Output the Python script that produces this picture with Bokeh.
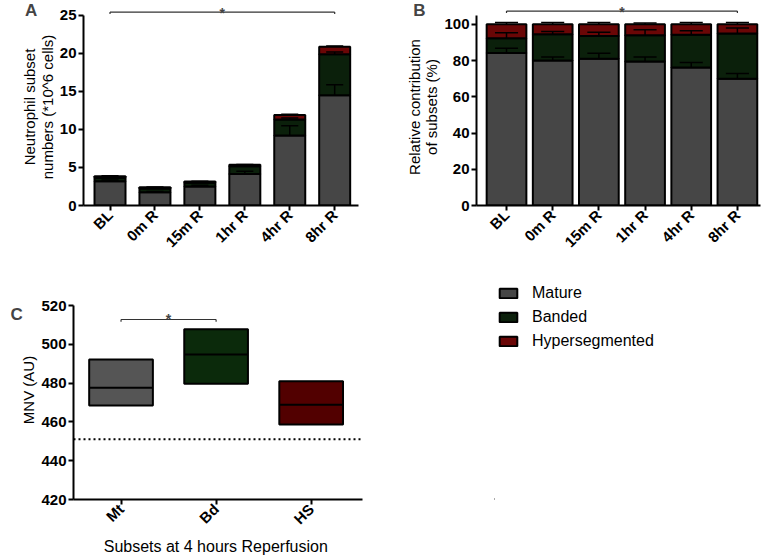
import math
import numpy as np
from bokeh.plotting import figure
from bokeh.layouts import row, column
from bokeh.models import (ColumnDataSource, Label, Span, Legend, LegendItem,
                          FixedTicker)
from bokeh.embed import file_html
from bokeh.resources import INLINE

# ---------------- data ----------------
cats = ["BL", "0m R", "15m R", "1hr R", "4hr R", "8hr R"]

a_mature = [3.2, 1.75, 2.5, 4.15, 9.2, 14.5]
a_banded = [0.45, 0.5, 0.5, 1.0, 2.1, 5.4]
a_hyper = [0.2, 0.15, 0.15, 0.2, 0.6, 1.0]
a_mature_err = [0.15, 0.1, 0.15, 0.35, 1.3, 1.4]
a_banded_err = [0.1, 0.1, 0.1, 0.2, 0.2, 0.3]
a_hyper_err = [0.05, 0.05, 0.05, 0.05, 0.1, 0.1]

b_mature = [84.2, 80.1, 81.0, 79.5, 76.2, 70.0]
b_banded = [8.1, 14.4, 12.6, 14.5, 18.1, 25.0]
b_hyper = [7.7, 5.5, 6.4, 6.0, 5.7, 5.0]
b_mature_err = [2.6, 1.9, 3.0, 2.5, 2.8, 2.8]
b_banded_err = [3.0, 1.5, 2.0, 3.0, 2.2, 3.0]
b_hyper_err = [1.0, 1.0, 1.0, 0.8, 1.0, 1.0]

c_cats = ["Mt", "Bd", "HS"]
c_min = [468.5, 479.7, 458.6]
c_max = [492.2, 507.8, 480.9]
c_mean = [477.6, 494.8, 468.9]
c_baseline = 451

subsets = ["Mature", "Banded", "Hypersegmented"]
colors = ["#464646", "#0b200b", "#6a0606"]
c_colors = ["#555555", "#0b2a0b", "#520000"]

FONT = "Liberation Sans"


def style(p):
    p.xgrid.visible = False
    p.ygrid.visible = False
    p.outline_line_color = None
    p.background_fill_color = "white"
    p.border_fill_color = "white"
    for ax in p.axis:
        ax.axis_line_width = 2
        ax.axis_line_color = "black"
        ax.major_tick_line_width = 2
        ax.major_tick_line_color = "black"
        ax.major_tick_out = 5
        ax.major_tick_in = 0
        ax.minor_tick_out = 0
        ax.minor_tick_in = 0
        ax.major_label_text_font = FONT
        ax.major_label_text_font_style = "bold"
        ax.major_label_text_font_size = "15px"
        ax.major_label_text_color = "black"
        ax.major_label_standoff = 2
        ax.axis_label_text_font = FONT
        ax.axis_label_text_font_style = "normal"
        ax.axis_label_text_font_size = "15px"
        ax.axis_label_text_line_height = 1.05
        ax.axis_label_text_color = "black"
        ax.axis_label_standoff = 1


def stacked(p, segs, errs, width, cap):
    x = np.arange(len(cats))
    bottom = np.zeros(len(cats))
    tops = []
    for vals, col in zip(segs, colors):
        top = bottom + np.array(vals)
        p.vbar(x=x, bottom=bottom, top=top, width=width, fill_color=col,
               line_color="black", line_width=2)
        tops.append(top)
        bottom = top
    for top, e in zip(tops, errs):
        hi = top + np.array(e)
        p.segment(x0=x, y0=top, x1=x, y1=hi, line_color="black", line_width=1.5)
        p.segment(x0=x - cap, y0=hi, x1=x + cap, y1=hi, line_color="black",
                  line_width=1.5)


def bracket(p, x0, x1, y, drop):
    p.segment(x0=[x0, x0, x1], y0=[y, y, y], x1=[x1, x0, x1],
              y1=[y, y - drop, y - drop], line_color="#333333", line_width=1.2)


# labels are put into a side panel so that they are not clipped to the frame
def star(p, x, y):
    p.add_layout(Label(x=x, y=y, text="*", text_align="center",
                       text_baseline="alphabetic", text_font=FONT,
                       text_font_style="bold", text_font_size="14px"), "left")


def letter(p, txt, x, y):
    p.add_layout(Label(x=x, y=y, text=txt, text_align="left",
                       text_baseline="top", text_font=FONT,
                       text_font_style="bold", text_font_size="17px"), "left")


# ---------------- panel A ----------------
pA = figure(width=385, height=270, x_range=(-0.59, 5.53), y_range=(0, 25.92),
            output_backend="svg", toolbar_location=None,
            min_border_left=67, min_border_right=27, min_border_top=8,
            min_border_bottom=65)
stacked(pA, [a_mature, a_banded, a_hyper],
        [a_mature_err, a_banded_err, a_hyper_err], 0.69, 0.19)
bracket(pA, 0, 5, 25.45, 0.25)
star(pA, 2.5, 25.3)
style(pA)
pA.yaxis.ticker = FixedTicker(ticks=[0, 5, 10, 15, 20, 25])
pA.yaxis.bounds = (0, 25)
pA.xaxis.ticker = FixedTicker(ticks=list(range(len(cats))))
pA.xaxis.major_label_overrides = {i: c for i, c in enumerate(cats)}
pA.xaxis.major_label_orientation = math.pi / 4
pA.yaxis.axis_label = "Neutrophil subset\nnumbers (*10^6 cells)"
letter(pA, "A", -1.89, 26.97)

# ---------------- panel B ----------------
pB = figure(width=376, height=270, x_range=(-0.65, 5.5), y_range=(0, 108.74),
            output_backend="svg", toolbar_location=None,
            min_border_left=83, min_border_right=1, min_border_top=8,
            min_border_bottom=63)
stacked(pB, [b_mature, b_banded, b_hyper],
        [b_mature_err, b_banded_err, b_hyper_err], 0.86, 0.25)
bracket(pB, 0, 5, 107.3, 1.0)
star(pB, 2.5, 106.8)
style(pB)
pB.yaxis.ticker = FixedTicker(ticks=[0, 20, 40, 60, 80, 100])
pB.yaxis.bounds = (0, 105)
pB.xaxis.ticker = FixedTicker(ticks=list(range(len(cats))))
pB.xaxis.major_label_overrides = {i: c for i, c in enumerate(cats)}
pB.xaxis.major_label_orientation = math.pi / 4
pB.yaxis.axis_label = "Relative contribution\nof subsets (%)"
letter(pB, "B", -2.02, 113.1)

# ---------------- panel C ----------------
pC = figure(width=385, height=288, x_range=(-0.5, 2.54), y_range=(420, 532.9),
            output_backend="svg", toolbar_location=None,
            min_border_left=69, min_border_right=23, min_border_top=10,
            min_border_bottom=59)
cx = np.arange(len(c_cats))
pC.vbar(x=cx, bottom=c_min, top=c_max, width=0.67, fill_color=c_colors,
        line_color="black", line_width=2)
pC.segment(x0=cx - 0.335, y0=c_mean, x1=cx + 0.335, y1=c_mean,
           line_color="black", line_width=2)
pC.add_layout(Span(location=c_baseline, dimension="width", line_color="black",
                   line_width=2, line_dash="2 3"))
bracket(pC, 0, 1, 512.8, 1.2)
star(pC, 0.5, 513.3)
style(pC)
pC.yaxis.ticker = FixedTicker(ticks=[420, 440, 460, 480, 500, 520])
pC.yaxis.bounds = (420, 520)
pC.xaxis.ticker = FixedTicker(ticks=list(range(len(c_cats))))
pC.xaxis.major_label_overrides = {i: c for i, c in enumerate(c_cats)}
pC.xaxis.major_label_orientation = math.pi / 4
pC.yaxis.axis_label = "MNV (AU)"
pC.xaxis.axis_label = "Subsets at 4 hours  Reperfusion"
pC.xaxis.axis_label_text_font_size = "16px"
pC.xaxis.axis_label_standoff = 2
letter(pC, "C", -1.164, 520.5)

# ---------------- legend panel ----------------
pL = figure(width=376, height=288, x_range=(0, 1), y_range=(0, 1),
            output_backend="svg", toolbar_location=None,
            x_axis_location=None, y_axis_location=None,
            min_border_left=109, min_border_top=10, min_border_right=0,
            min_border_bottom=59)
pL.xgrid.visible = False
pL.ygrid.visible = False
pL.outline_line_color = None
items = []
for name, col in zip(subsets, colors):
    # hidden proxy (outside the visible range) that only feeds the legend swatch
    src = ColumnDataSource(data=dict(x=[-5.0], top=[0.0]))
    r = pL.vbar(x="x", top="top", width=0.1, source=src, fill_color=col,
                line_color="black", line_width=2)
    items.append(LegendItem(label=name, renderers=[r]))
leg = Legend(items=items, location="top_left", padding=0, margin=3,
             border_line_alpha=0, background_fill_alpha=0,
             glyph_width=22, glyph_height=12, label_standoff=13,
             label_height=20, spacing=4,
             label_text_font=FONT, label_text_font_size="16px",
             label_text_color="black")
pL.add_layout(leg)

layout = column(row(pA, pB), row(pC, pL))
open("out.html", "w").write(file_html(layout, INLINE))
